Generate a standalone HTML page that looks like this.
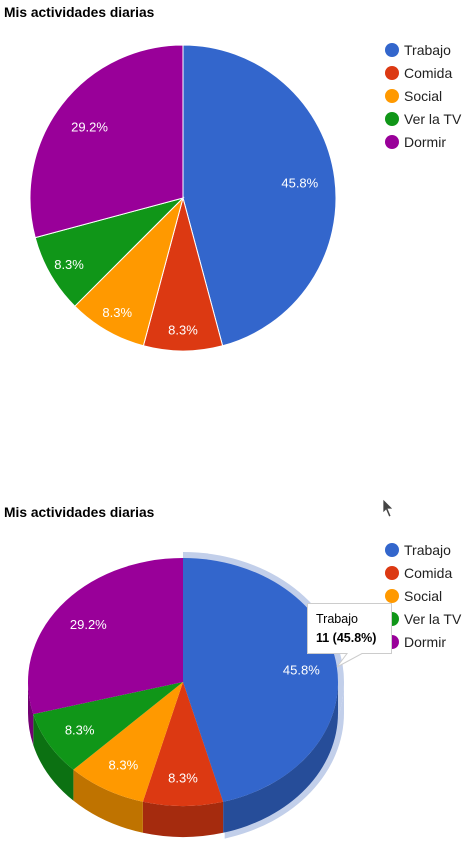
<!DOCTYPE html>
<html><head><meta charset="utf-8">
<style>
body{margin:0;background:#fff;width:467px;height:847px;overflow:hidden;font-family:"Liberation Sans",Arial,sans-serif}
svg{position:absolute;left:0;top:0}
</style></head>
<body>
<svg id="s" width="467" height="847"></svg>
<script>
const categories=["Trabajo","Comida","Social","Ver la TV","Dormir"];
const values=[11,2,2,2,7];
const colors=["#3366cc","#dc3912","#ff9900","#109618","#990099"];
const darkColors=["#264d99","#a52b0e","#bf7300","#0c7112","#730073"];
const title="Mis actividades diarias";
const NS="http://www.w3.org/2000/svg";
const svg=document.getElementById('s');
function el(tag,attrs,parent){const e=document.createElementNS(NS,tag);for(const k in attrs)e.setAttribute(k,attrs[k]);(parent||svg).appendChild(e);return e;}
const total=values.reduce((a,b)=>a+b,0);
const angles=[];let acc=0;
values.forEach(v=>{const a0=acc/total*2*Math.PI;acc+=v;angles.push([a0,acc/total*2*Math.PI]);});
function pt(cx,cy,rx,ry,a){return [cx+rx*Math.sin(a),cy-ry*Math.cos(a)];}
function sector(cx,cy,rx,ry,a0,a1){const p0=pt(cx,cy,rx,ry,a0),p1=pt(cx,cy,rx,ry,a1);const large=(a1-a0)>Math.PI?1:0;return `M${cx},${cy}L${p0[0]},${p0[1]}A${rx},${ry} 0 ${large} 1 ${p1[0]},${p1[1]}Z`;}
function titleText(y){const t=el('text',{x:4,y:y,'font-size':13.8,'font-weight':'bold',fill:'#000'});t.textContent=title;}
function legend(y0){categories.forEach((c,i)=>{const g=el('g',{});el('circle',{cx:392,cy:y0+23*i,r:7,fill:colors[i]},g);const t=el('text',{x:404,y:y0+23*i+5,'font-size':14,fill:'#222'},g);t.textContent=c;});}
function label(x,y,i){const t=el('text',{x:x,y:y+5,'font-size':13,fill:'#fff','text-anchor':'middle'});t.textContent=(values[i]/total*100).toFixed(1)+'%';}
// Chart 1
titleText(17);
(function(){const cx=183,cy=198,r=153;
angles.forEach(([a0,a1],i)=>{const p=el('path',{d:sector(cx,cy,r,r,a0,a1),fill:colors[i],stroke:'#fff','stroke-width':1});});
angles.forEach(([a0,a1],i)=>{const m=(a0+a1)/2;const f=(values[i]/total<0.15)?0.86:0.77;const q=pt(cx,cy,r*f,r*f,m);label(q[0],q[1],i);});
legend(50);})();
// Chart 2 (3D)
titleText(517);
(function(){const cx=183,cy=682,rx=155,ry=124,d=31;
function side(rx2,ry2,a0,a1){const s=Math.max(a0,Math.PI/2),e=Math.min(a1,3*Math.PI/2);if(e<=s)return null;const p0=pt(cx,cy,rx2,ry2,s),p1=pt(cx,cy,rx2,ry2,e);return `M${p0[0]},${p0[1]}A${rx2},${ry2} 0 0 1 ${p1[0]},${p1[1]}L${p1[0]},${p1[1]+d}A${rx2},${ry2} 0 0 0 ${p0[0]},${p0[1]+d}Z`;}
const [h0,h1]=angles[0];
el('path',{d:sector(cx,cy,rx+6,ry+6,h0,h1),fill:'#c2cfea'});
const hs=side(rx+6,ry+6,h0,h1);if(hs)el('path',{d:hs,fill:'#c2cfea'});
angles.forEach(([a0,a1],i)=>{const sd=side(rx,ry,a0,a1);if(sd){const p=el('path',{d:sd,fill:darkColors[i]});}});
angles.forEach(([a0,a1],i)=>{const p=el('path',{d:sector(cx,cy,rx,ry,a0,a1),fill:colors[i]});});
angles.forEach(([a0,a1],i)=>{const m=(a0+a1)/2;const q=pt(cx,cy,rx*0.77,ry*0.77,m);label(q[0],q[1],i);});
legend(550);
const g=el('g',{});
el('path',{d:'M307.5,603.5H391.5V653.5H362L337,667L347,653.5H307.5Z',fill:'#fff',stroke:'#ccc','stroke-width':1},g);
const t1=el('text',{x:316,y:623,'font-size':12.5,fill:'#000'},g);t1.textContent=categories[0];
const t2=el('text',{x:316,y:642,'font-size':12.5,'font-weight':'bold',fill:'#000'},g);t2.textContent=values[0]+' ('+(values[0]/total*100).toFixed(1)+'%)';
})();
const c=el('path',{d:'M383,499L383,513L386,510L389,517L391,516L388,509L393,509Z',fill:'#444',stroke:'#fff','stroke-width':0.7});


</script>
</body></html>
